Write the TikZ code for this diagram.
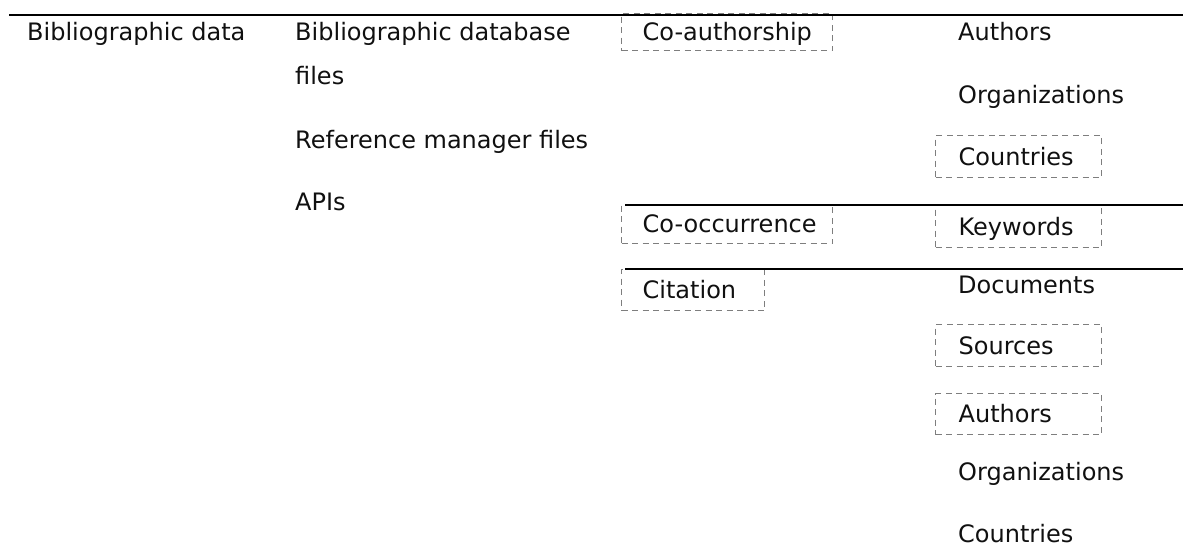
\documentclass[tikz,border=0pt]{standalone}
\usepackage{fontspec}
\setmainfont{DejaVu Sans}
\newcommand\cellfont{\fontsize{24}{29}\selectfont}
\definecolor{dashgray}{HTML}{7E7E7E}
\definecolor{ink}{HTML}{101010}
\begin{document}
\begin{tikzpicture}[x=1pt,y=-1pt,
  txt/.style={anchor=base west, inner sep=0pt, font=\cellfont, text=ink},
  dbox/.style={draw=dashgray, dash pattern=on 6pt off 4.5pt, line width=1.3pt,
    anchor=north west, inner ysep=0pt, text height=17.5pt, text depth=0pt,
    font=\cellfont, text=ink},
  midbox/.style={dbox, inner xsep=21pt},
  rightbox/.style={dbox, inner xsep=23pt, minimum height=42pt},
  rulestyle/.style={line width=1.9pt, draw=black}]
\useasboundingbox (0,0) rectangle (1183,547);

% column 1 and 2
\node[txt] (bibdata) at (27,40) {Bibliographic data};
% base anchor of a two-line node is the baseline of its last line
\node[txt, align=left, font=\fontsize{24}{44}\selectfont] (dbfiles) at (295,84) {Bibliographic database\\files};
\node[txt] (refman) at (295,148) {Reference manager files};
\node[txt] (apis) at (295,210) {APIs};

% column 3 (dashed boxes)
\node[midbox, minimum height=37pt] (coauth) at (621,13) {\makebox[169pt][l]{Co-authorship}};
\node[midbox, minimum height=39pt] (cooc) at (621,204) {\makebox[169pt][l]{Co-occurrence}};
\node[midbox, minimum height=41pt] (cit) at (621,269) {\makebox[101pt][l]{Citation}};

% column 4
\node[txt] (auth1) at (958,40) {Authors};
\node[txt] (org1) at (958,103) {Organizations};
\node[rightbox] (ctry1) at (935,135) {\makebox[120pt][l]{Countries}};
\node[rightbox] (kw) at (935,205) {\makebox[120pt][l]{Keywords}};
\node[txt] (docs) at (958,293) {Documents};
\node[rightbox] (src) at (935,324) {\makebox[120pt][l]{Sources}};
\node[rightbox, minimum height=41pt] (auth2) at (935,393) {\makebox[120pt][l]{Authors}};
\node[txt] (org2) at (958,480) {Organizations};
\node[txt] (ctry2) at (958,542) {Countries};

% rules
\coordinate (r1a) at (9,14.7);   \coordinate (r1b) at (1183,14.7);
\coordinate (r2a) at (625,204.7); \coordinate (r2b) at (1183,204.7);
\coordinate (r3a) at (625,269.3); \coordinate (r3b) at (1183,269.3);
\draw[rulestyle] (r1a) -- (r1b);
\draw[rulestyle] (r2a) -- (r2b);
\draw[rulestyle] (r3a) -- (r3b);
\end{tikzpicture}
\end{document}
